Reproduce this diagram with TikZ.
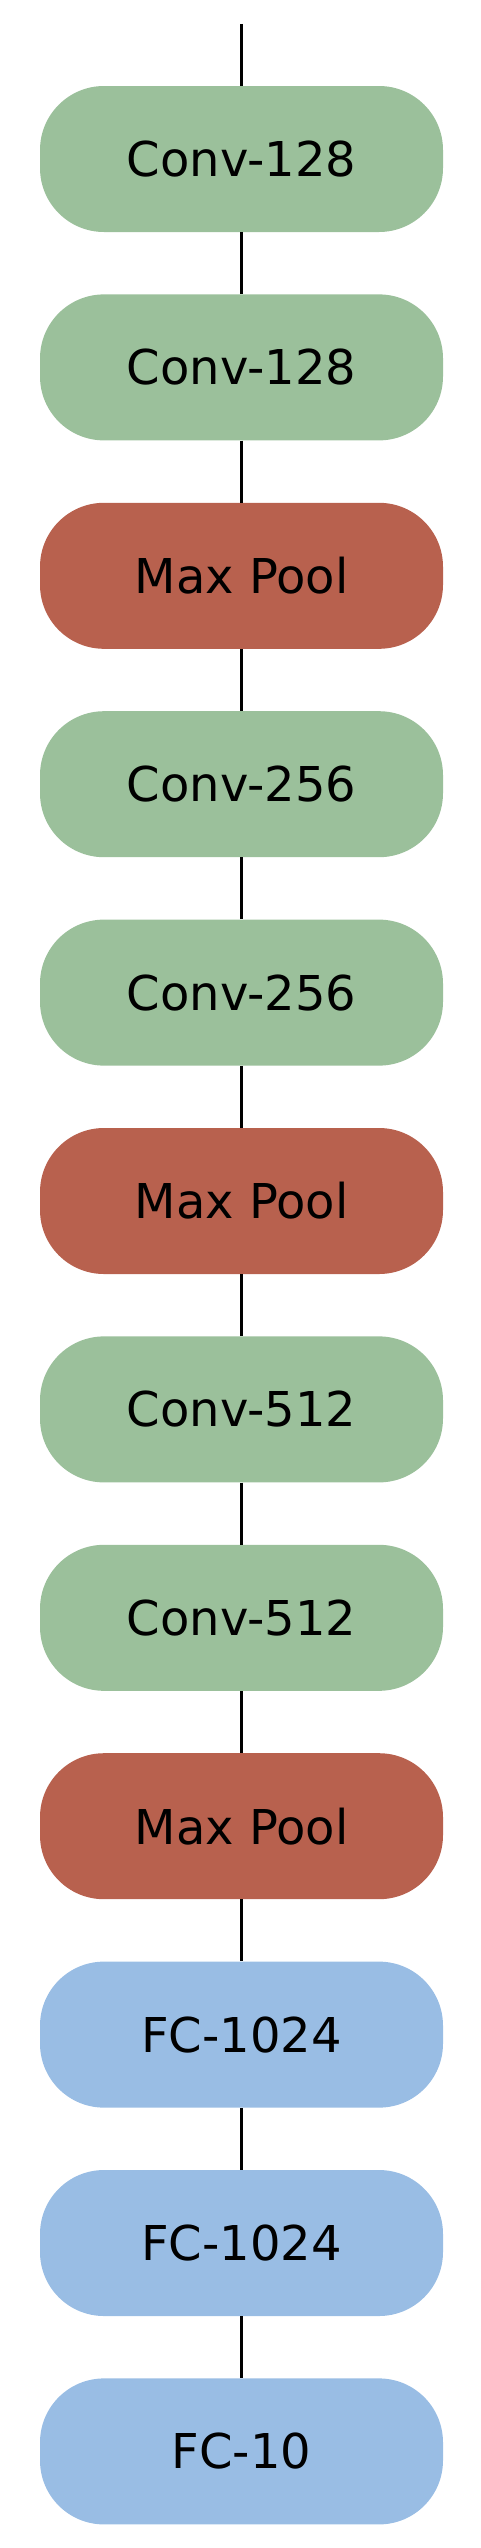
\documentclass[tikz,border=0pt]{standalone}
\usepackage{fontspec}
\setmainfont{DejaVu Sans}
\usetikzlibrary{positioning}

\definecolor{convgreen}{RGB}{155,192,155}
\definecolor{poolred}{RGB}{184,97,78}
\definecolor{fcblue}{RGB}{153,189,228}

\begin{document}
\begin{tikzpicture}[
  x=1pt, y=1pt,
  layer/.style={rectangle, rounded corners=64pt, minimum width=403pt,
    minimum height=146pt, inner sep=0pt, font=\fontsize{48}{58}\selectfont,
    text=black},
  conv/.style={layer, fill=convgreen},
  pool/.style={layer, fill=poolred},
  fc/.style={layer, fill=fcblue},
  link/.style={line width=3.8pt, black},
  node distance=62pt
]
  \useasboundingbox (0,0) rectangle (480,-2548);

  % input stub
  \coordinate (in) at (241.5,-24);

  % block 1
  \node[conv] (c1) at (241.5,-159) {Conv-128};
  \node[conv, below=of c1] (c2) {Conv-128};
  \node[pool, below=of c2] (p1) {Max Pool};

  % block 2
  \node[conv, below=of p1] (c3) {Conv-256};
  \node[conv, below=of c3] (c4) {Conv-256};
  \node[pool, below=of c4] (p2) {Max Pool};

  % block 3
  \node[conv, below=of p2] (c5) {Conv-512};
  \node[conv, below=of c5] (c6) {Conv-512};
  \node[pool, below=of c6] (p3) {Max Pool};

  % classifier
  \node[fc, below=of p3] (f1) {FC-1024};
  \node[fc, below=of f1] (f2) {FC-1024};
  \node[fc, below=of f2] (f3) {FC-10};

  % connections
  \draw[link] (in) -- (c1.north);
  \foreach \a/\b in {c1/c2, c2/p1, p1/c3, c3/c4, c4/p2, p2/c5,
                     c5/c6, c6/p3, p3/f1, f1/f2, f2/f3} {
    \draw[link] (\a.south) -- (\b.north);
  }

\end{tikzpicture}
\end{document}
